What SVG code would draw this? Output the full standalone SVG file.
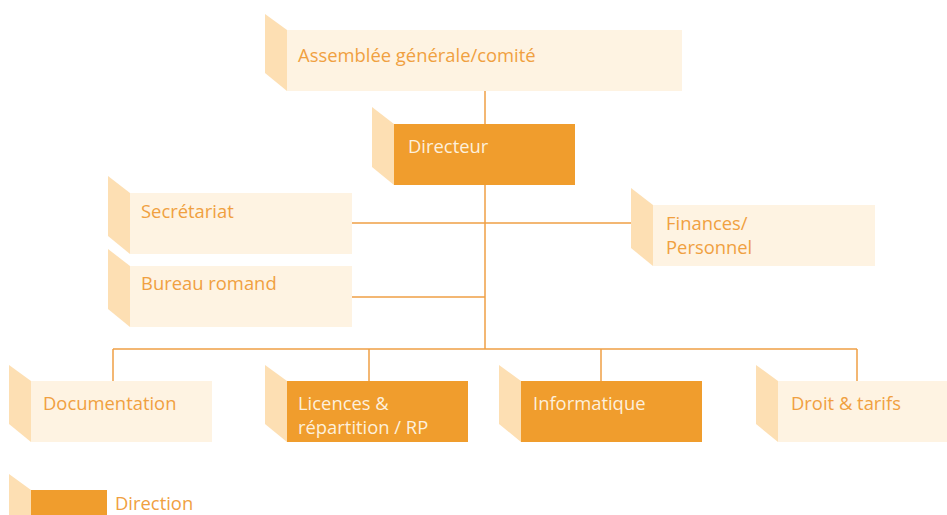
<svg xmlns="http://www.w3.org/2000/svg" width="947" height="515" viewBox="0 0 947 515">
<style>
.side{fill:#FDDFB3}
.light{fill:#FEF3E2}
.dark{fill:#F09D2D}
.tl{font-family:"Open Sans","Noto Sans",sans-serif;font-size:18.4px;fill:#F0A040}
.td{font-family:"Open Sans","Noto Sans",sans-serif;font-size:18.4px;fill:#FDF0DC}
.conn{stroke:#F0A045;stroke-width:1.5;fill:none}
</style>
<g id="connectors">
<path class="conn" d="M485,91V349M352,223H631M352,297H485M113,349H857M113,349V381M369,349V381M601,349V381M857,349V381"/>
</g>
<g id="assemblee">
<polygon class="side" points="265,14 287,30 287,91 265,73"/>
<rect class="light" x="287" y="30" width="395" height="61"/>
<text class="tl" x="298" y="62">Assemblée générale/comité</text>
</g>
<g id="directeur">
<polygon class="side" points="372,107 394,124 394,185 372,167"/>
<rect class="dark" x="394" y="124" width="181" height="61"/>
<text class="td" x="408" y="153">Directeur</text>
</g>
<g id="secretariat">
<polygon class="side" points="108,176 130,193 130,254 108,236"/>
<rect class="light" x="130" y="193" width="222" height="61"/>
<text class="tl" x="141" y="218">Secrétariat</text>
</g>
<g id="bureau">
<polygon class="side" points="108,249 130,266 130,327 108,309"/>
<rect class="light" x="130" y="266" width="222" height="61"/>
<text class="tl" x="141" y="290">Bureau romand</text>
</g>
<g id="finances">
<polygon class="side" points="631,188 653,205 653,266 631,248"/>
<rect class="light" x="653" y="205" width="222" height="61"/>
<text class="tl" x="666" y="230">Finances/</text>
<text class="tl" x="666" y="254">Personnel</text>
</g>
<g id="documentation">
<polygon class="side" points="9,365 31,381 31,442 9,424"/>
<rect class="light" x="31" y="381" width="181" height="61"/>
<text class="tl" x="43" y="410">Documentation</text>
</g>
<g id="licences">
<polygon class="side" points="265,365 287,381 287,442 265,424"/>
<rect class="dark" x="287" y="381" width="181" height="61"/>
<text class="td" x="298" y="410">Licences &amp;</text>
<text class="td" x="298" y="434">répartition / RP</text>
</g>
<g id="informatique">
<polygon class="side" points="499,365 521,381 521,442 499,424"/>
<rect class="dark" x="521" y="381" width="181" height="61"/>
<text class="td" x="533" y="410">Informatique</text>
</g>
<g id="droit">
<polygon class="side" points="756,365 778,381 778,442 756,424"/>
<rect class="light" x="778" y="381" width="169" height="61"/>
<text class="tl" x="791" y="410">Droit &amp; tarifs</text>
</g>
<g id="legend">
<polygon class="side" points="9,474 31,490 31,515 9,515"/>
<rect class="dark" x="31" y="490" width="76" height="25"/>
<text class="tl" x="115" y="510">Direction</text>
</g>
</svg>
